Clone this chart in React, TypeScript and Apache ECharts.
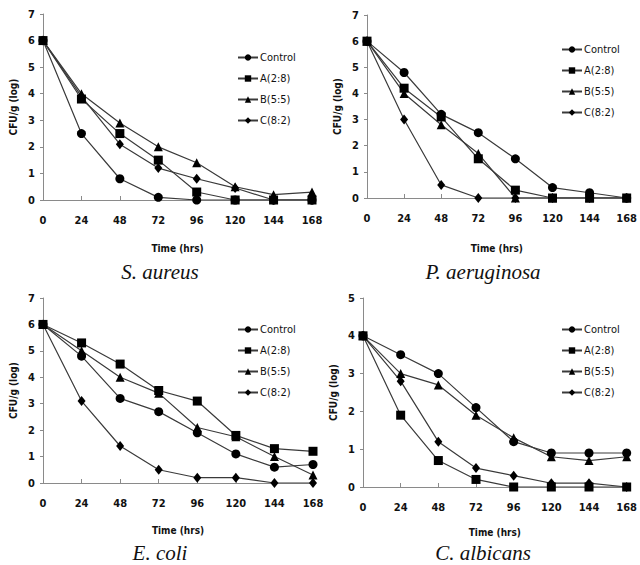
import React, { useEffect, useRef } from "react";
import * as echarts from "echarts";

const hours = [0, 24, 48, 72, 96, 120, 144, 168];
const seriesNames = ["Control", "A(2:8)", "B(5:5)", "C(8:2)"];
const panelTitles = ["S. aureus", "P. aeruginosa", "E. coli", "C. albicans"];
const yMaxes = [7, 7, 7, 5];

// S. aureus
const saControl = [6, 2.5, 0.8, 0.1, 0, 0, 0, 0];
const saA = [6, 3.8, 2.5, 1.5, 0.3, 0, 0, 0];
const saB = [6, 4.0, 2.9, 2.0, 1.4, 0.5, 0.2, 0.3];
const saC = [6, 3.9, 2.1, 1.2, 0.8, 0.45, 0, 0];

// P. aeruginosa
const paControl = [6, 4.8, 3.2, 2.5, 1.5, 0.4, 0.2, 0];
const paA = [6, 4.2, 3.1, 1.5, 0.3, 0, 0, 0];
const paB = [6, 4.0, 2.8, 1.7, 0, 0, 0, 0];
const paC = [6, 3.0, 0.5, 0, 0, 0, 0, 0];

// E. coli
const ecControl = [6, 4.8, 3.2, 2.7, 1.9, 1.1, 0.6, 0.7];
const ecA = [6, 5.3, 4.5, 3.5, 3.1, 1.8, 1.3, 1.2];
const ecB = [6, 5.0, 4.0, 3.4, 2.1, 1.75, 1.0, 0.3];
const ecC = [6, 3.1, 1.4, 0.5, 0.2, 0.2, 0, 0];

// C. albicans
const caControl = [4, 3.5, 3.0, 2.1, 1.2, 0.9, 0.9, 0.9];
const caA = [4, 1.9, 0.7, 0.2, 0, 0, 0, 0];
const caB = [4, 3.0, 2.7, 1.9, 1.3, 0.8, 0.7, 0.8];
const caC = [4, 2.8, 1.2, 0.5, 0.3, 0.1, 0.1, 0];

const panels = [
  [saControl, saA, saB, saC],
  [paControl, paA, paB, paC],
  [ecControl, ecA, ecB, ecC],
  [caControl, caA, caB, caC],
];

const FONT = "'Liberation Sans Narrow', 'DejaVu Sans Condensed', 'Liberation Sans', sans-serif";
const AXIS_GRAY = "#8a8a8a";

const grids = [
  { left: 43, top: 14, width: 269, height: 186 },
  { left: 367, top: 15, width: 268, height: 183 },
  { left: 43, top: 298, width: 270, height: 185 },
  { left: 363, top: 298, width: 272, height: 189 },
];
const xNameGaps = [43, 45, 42, 40];
const legendPos = [
  { left: 232, top: 47 },
  { left: 556, top: 39 },
  { left: 232, top: 319 },
  { left: 556, top: 319 },
];
const titlePos = [
  { x: 160, y: 272 },
  { x: 483, y: 272 },
  { x: 160, y: 553 },
  { x: 483, y: 553 },
];
const symbols = ["circle", "rect", "triangle", "diamond"];
const symbolSizes: any[] = [9, 9, 9, [8, 10]];

export default function App() {
  const ref = useRef<HTMLDivElement>(null);
  useEffect(() => {
    if (!ref.current) return;
    const chart = echarts.init(ref.current, null, { renderer: "svg" });
    const series: any[] = [];
    panels.forEach((p, pi) => {
      p.forEach((vals, si) => {
        series.push({
          type: "line",
          name: seriesNames[si],
          xAxisIndex: pi,
          yAxisIndex: pi,
          data: hours.map((h, i) => [h, vals[i]]),
          symbol: symbols[si],
          symbolSize: symbolSizes[si],
          lineStyle: { color: "#3a3a3a", width: 1.2 },
          itemStyle: { color: "#000" },
          z: 3,
        });
      });
    });
    chart.setOption({
      animation: false,
      backgroundColor: "#fff",
      grid: grids.map((g) => ({ ...g, containLabel: false })),
      xAxis: grids.map((_, i) => ({
        type: "value",
        gridIndex: i,
        min: 0,
        max: 168,
        interval: 24,
        name: "Time (hrs)",
        nameLocation: "middle",
        nameGap: xNameGaps[i],
        nameTextStyle: { fontFamily: FONT, fontSize: 10, fontWeight: "bold", color: "#111" },
        axisLine: { show: true, lineStyle: { color: AXIS_GRAY, width: 1 } },
        axisTick: { show: true, inside: true, length: 4, lineStyle: { color: AXIS_GRAY } },
        axisLabel: { fontFamily: FONT, fontSize: 11, fontWeight: "bold", color: "#111", margin: 15 },
        splitLine: { show: false },
      })),
      yAxis: grids.map((_, i) => ({
        type: "value",
        gridIndex: i,
        min: 0,
        max: yMaxes[i],
        interval: 1,
        name: "CFU/g (log)",
        nameLocation: "middle",
        nameRotate: 90,
        nameGap: 25,
        nameTextStyle: { fontFamily: FONT, fontSize: 10, fontWeight: "bold", color: "#111" },
        axisLine: { show: true, lineStyle: { color: AXIS_GRAY, width: 1 } },
        axisTick: { show: true, inside: false, length: 3, lineStyle: { color: AXIS_GRAY } },
        axisLabel: { fontFamily: FONT, fontSize: 11, fontWeight: "bold", color: "#111", margin: 8 },
        splitLine: { show: false },
      })),
      legend: legendPos.map((lp) => ({
        data: seriesNames,
        orient: "vertical",
        left: lp.left,
        top: lp.top,
        itemWidth: 20,
        itemHeight: 8,
        itemGap: 10,
        selectedMode: false,
        textStyle: { fontFamily: FONT, fontSize: 11, color: "#111", padding: [0, 0, 0, -3] },
      })),
      graphic: panelTitles.map((t, i) => ({
        type: "text",
        x: titlePos[i].x,
        y: titlePos[i].y,
        style: {
          text: t,
          font: "italic 21px 'Liberation Serif', 'Times New Roman', serif",
          fill: "#111",
          textAlign: "center",
          textVerticalAlign: "middle",
        },
      })),
      series,
    });
    return () => chart.dispose();
  }, []);
  return (
    <div
      ref={ref}
      style={{ position: "fixed", left: 0, top: 0, width: 640, height: 565, background: "#fff" }}
    />
  );
}
